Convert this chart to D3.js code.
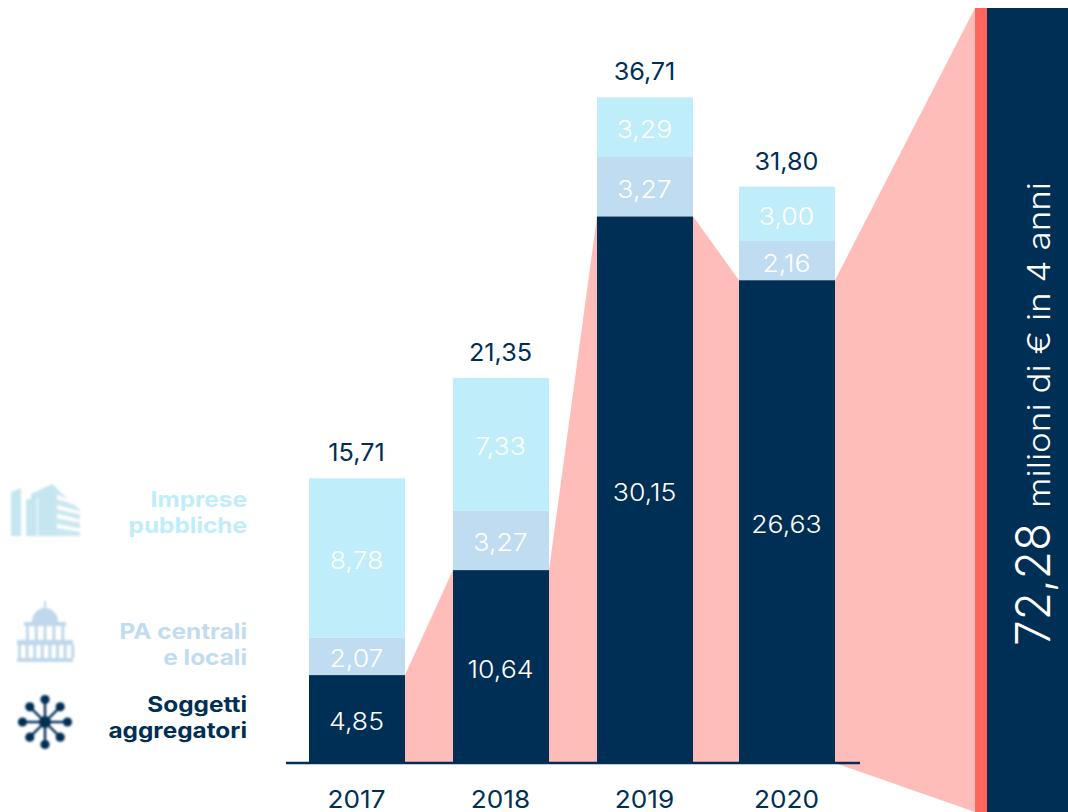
<!DOCTYPE html>
<html><head><meta charset="utf-8">
<script src="https://cdn.jsdelivr.net/npm/d3@7/dist/d3.min.js"></script>
<style>html,body{margin:0;padding:0;background:#fff}svg{display:block;font-family:Inter,"Noto Sans",sans-serif}</style>
</head><body><div id="c"></div>
<script>
const years = ["2017","2018","2019","2020"];
const aggregatori = [4.85,10.64,30.15,26.63];
const paCentrali = [2.07,3.27,3.27,2.16];
const imprese = [8.78,7.33,3.29,3.00];
const totals = ["15,71","21,35","36,71","31,80"];
const seriesNames = ["aggregatori","pa","imprese"];
const seriesColors = ["#002F56","#BFDCF0","#BFEDFA"];
const legendLines = [["Imprese","pubbliche"],["PA centrali","e locali"],["Soggetti","aggregatori"]];
const legendColors = ["#BFEDFA","#BFDCF0","#002F56"];
const fmt = v => v.toFixed(2).replace(".",",");

const W=1068,H=812,NAVY="#002F56",PINK="#FFBDBA",CORAL="#FF665E";
const svg=d3.select("#c").append("svg").attr("width",W).attr("height",H);
const defs=svg.append("defs");
defs.append("filter").attr("id","soft").append("feGaussianBlur").attr("stdDeviation",0.8);
defs.append("filter").attr("id","softer").append("feGaussianBlur").attr("stdDeviation",1.1);

const x=d3.scaleOrdinal().domain(years).range([309,453,597,739]);
const bw=96;
const y=d3.scaleLinear().domain([0,36.71]).range([763,97.4]);

const rows=years.map((yr,i)=>({yr,aggregatori:aggregatori[i],pa:paCentrali[i],imprese:imprese[i]}));
const stacked=d3.stack().keys(seriesNames)(rows);

const barEndX=975, panelX=987, topY=8;
const pts=[];
years.forEach((yr,i)=>{pts.push([x(yr)+(i?0:bw),y(aggregatori[i])]);if(i)pts.push([x(yr)+bw,y(aggregatori[i])]);});
pts.push([barEndX,topY],[barEndX,H],[x("2020")+bw,y(0)],[x("2017")+bw,y(0)]);
svg.append("polygon").attr("points",pts.map(p=>p.join(",")).join(" ")).attr("fill",PINK);

svg.append("rect").attr("x",barEndX).attr("y",topY).attr("width",panelX-barEndX).attr("height",H-topY).attr("fill",CORAL);
svg.append("rect").attr("x",panelX).attr("y",topY).attr("width",W-panelX).attr("height",H-topY).attr("fill",NAVY);

stacked.forEach((s,k)=>{
  svg.append("g").selectAll("rect").data(s).join("rect")
    .attr("x",d=>x(d.data.yr)).attr("width",bw)
    .attr("y",d=>y(d[1])).attr("height",d=>y(d[0])-y(d[1]))
    .attr("fill",seriesColors[k]);
  svg.append("g").selectAll("text").data(s).join("text")
    .attr("transform",d=>`translate(${x(d.data.yr)+bw/2-0.5},${(y(d[0])+y(d[1]))/2+11}) scale(1.11,1)`)
    .attr("text-anchor","middle").attr("font-size",24).attr("font-weight",300)
    .attr("fill","#fff").text(d=>fmt(d[1]-d[0]));
});

svg.append("line").attr("x1",286).attr("x2",860).attr("y1",763).attr("y2",763)
  .attr("stroke",NAVY).attr("stroke-width",2.6);

svg.append("g").selectAll("text").data(rows).join("text")
  .attr("transform",d=>`translate(${x(d.yr)+bw/2-0.5},${y(d.aggregatori+d.pa+d.imprese)-17}) scale(1.05,1)`)
  .attr("text-anchor","middle").attr("font-size",24).attr("font-weight",400).attr("fill",NAVY)
  .text((d,i)=>totals[i]);

svg.append("g").selectAll("text").data(years).join("text")
  .attr("transform",d=>`translate(${x(d)+bw/2-0.5},808) scale(1.09,1)`)
  .attr("text-anchor","middle").attr("font-size",24).attr("font-weight",400).attr("fill",NAVY).text(d=>d);

const legendBase=[507,639,712];
legendLines.forEach((ls,i)=>ls.forEach((t,j)=>{
  svg.append("text").attr("transform",`translate(247,${legendBase[i]+j*26}) scale(1.16,1)`).attr("text-anchor","end")
    .attr("font-size",21).attr("font-weight",700).attr("fill",legendColors[i]).text(t);
}));

// icons
const bld=svg.append("g").attr("fill","#C5E6F0").attr("filter","url(#softer)");
bld.append("polygon").attr("points","11,492 21,488 21,536 11,536");
bld.append("polygon").attr("points","26,500 37,497 37,536 26,536");
bld.append("polygon").attr("points","31,494 52,484 57,488 57,536 38,536 38,498 31,501");
bld.append("polygon").attr("points","52,484 80,510 80,536 52,536").attr("fill-opacity",0.9);
[[495,504],[505,512],[514,520],[524,529]].forEach(v=>bld.append("polygon")
  .attr("points",`57,${v[0]} 82,${v[1]} 82,${v[1]+3} 57,${v[0]+4}`).attr("fill","#ffffff"));

const cap=svg.append("g").attr("fill","#BFD8EA").attr("filter","url(#soft)");
cap.append("path").attr("d","M32,622 A13,14 0 0 1 58,622 Z");
cap.append("rect").attr("x",44).attr("y",601).attr("width",2).attr("height",8);
cap.append("rect").attr("x",24).attr("y",622).attr("width",42).attr("height",4);
d3.range(5).forEach(i=>cap.append("rect").attr("x",26+i*8.8).attr("y",626).attr("width",3).attr("height",14));
cap.append("rect").attr("x",17).attr("y",640).attr("width",56).attr("height",5);
d3.range(8).forEach(i=>cap.append("rect").attr("x",18+i*7.6).attr("y",645).attr("width",3).attr("height",13));
cap.append("rect").attr("x",17).attr("y",658).attr("width",56).attr("height",4);

const net=svg.append("g").attr("filter","url(#soft)").attr("transform","translate(45,722)");
net.append("circle").attr("r",6).attr("fill",NAVY);
d3.range(8).forEach(i=>{
  const a=i*Math.PI/4,r=(i%2)?21.5:22.5,cx=r*Math.cos(a),cy=r*Math.sin(a);
  net.append("line").attr("x2",cx).attr("y2",cy).attr("stroke",NAVY).attr("stroke-width",2.4);
  net.append("circle").attr("cx",cx).attr("cy",cy).attr("r",4.6).attr("fill",NAVY);
});

// panel caption
svg.append("text").attr("transform","translate(1050,646) rotate(-90)").attr("fill","#fff")
  .attr("font-weight",300).attr("font-size",48).text("72,28").attr("textLength",123).attr("lengthAdjust","spacingAndGlyphs");
svg.append("text").attr("transform","translate(1050,508) rotate(-90)").attr("fill","#fff")
  .attr("font-weight",300).attr("font-size",31).text("milioni di € in 4 anni").attr("textLength",326).attr("lengthAdjust","spacingAndGlyphs");
</script></body></html>
